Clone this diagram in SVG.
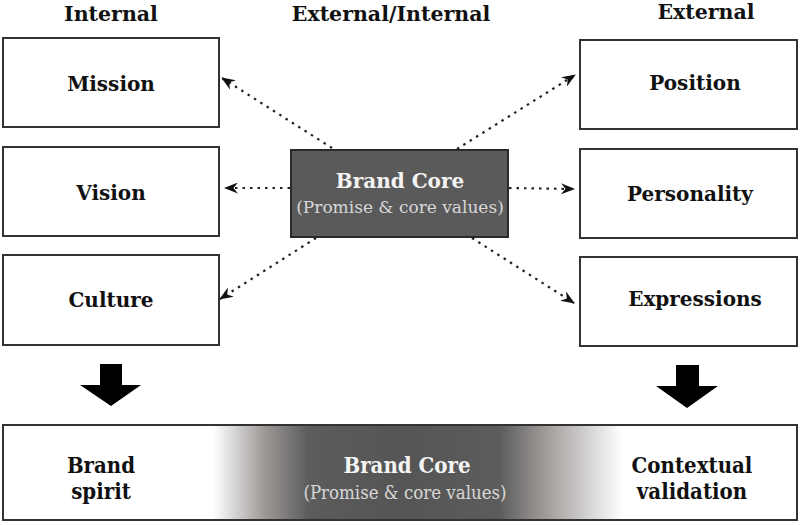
<svg xmlns="http://www.w3.org/2000/svg" width="800" height="525" viewBox="0 0 800 525">
<defs>
<style>
.box{fill:#fff;stroke:#333;stroke-width:2}
.lbl{font-family:"DejaVu Serif","Liberation Serif",serif;font-weight:bold;font-size:20px;fill:#111;text-anchor:middle}
.hdr{font-family:"DejaVu Serif","Liberation Serif",serif;font-weight:bold;font-size:20.5px;fill:#111;text-anchor:middle}
.sub{font-family:"DejaVu Serif","Liberation Serif",serif;font-size:17px;fill:#d8d8d8;text-anchor:middle}
.bl{font-family:"DejaVu Serif Condensed","DejaVu Serif",serif;font-weight:bold;font-size:22px;fill:#111;text-anchor:middle}
.bsub{font-family:"DejaVu Serif Condensed","DejaVu Serif",serif;font-size:18.5px;fill:#d8d8d8;text-anchor:middle}
.conn{stroke:#222;stroke-width:2.2;stroke-dasharray:2.5,5;fill:none;marker-end:url(#ah)}
</style>
<marker id="ah" viewBox="0 0 14 11" refX="13" refY="5.5" markerWidth="14" markerHeight="11" markerUnits="userSpaceOnUse" orient="auto">
<path d="M0,0 L14,5.5 L0,11 L4.5,5.5 z" fill="#111"/>
</marker>
<linearGradient id="g" x1="0" y1="0" x2="1" y2="0" gradientUnits="objectBoundingBox">
<stop offset="0" stop-color="#ffffff"/>
<stop offset="0.265" stop-color="#ffffff"/>
<stop offset="0.33" stop-color="#9c9896"/>
<stop offset="0.385" stop-color="#5c5c5c"/>
<stop offset="0.5" stop-color="#555"/>
<stop offset="0.625" stop-color="#5c5c5c"/>
<stop offset="0.68" stop-color="#9c9896"/>
<stop offset="0.78" stop-color="#ffffff"/>
<stop offset="1" stop-color="#ffffff"/>
</linearGradient>
</defs>
<rect width="800" height="525" fill="#fff"/>

<text class="hdr" x="111" y="21">Internal</text>
<text class="hdr" x="391" y="21">External/Internal</text>
<text class="hdr" x="706" y="19">External</text>

<g id="mission"><rect class="box" x="3" y="38" width="216" height="89"/><text class="lbl" x="111" y="91">Mission</text></g>
<g id="vision"><rect class="box" x="3" y="147" width="216" height="89"/><text class="lbl" x="111" y="200">Vision</text></g>
<g id="culture"><rect class="box" x="3" y="255" width="216" height="90"/><text class="lbl" x="111" y="307">Culture</text></g>

<g id="position"><rect class="box" x="580" y="40" width="217" height="89"/><text class="lbl" x="695" y="90">Position</text></g>
<g id="personality"><rect class="box" x="580" y="149" width="217" height="89"/><text class="lbl" x="690" y="201">Personality</text></g>
<g id="expressions"><rect class="box" x="580" y="257" width="217" height="89"/><text class="lbl" x="695" y="306">Expressions</text></g>

<g id="brand-core"><rect x="291" y="150" width="217" height="87" fill="#5a5a5a" stroke="#2a2a2a" stroke-width="2"/>
<text class="lbl" x="400" y="188" style="fill:#f4f4f4">Brand Core</text>
<text class="sub" x="400" y="213">(Promise &amp; core values)</text></g>

<g id="connectors">
<line class="conn" x1="332" y1="148" x2="222" y2="78"/>
<line class="conn" x1="290" y1="188" x2="225" y2="188"/>
<line class="conn" x1="316" y1="238" x2="220" y2="299"/>
<line class="conn" x1="457" y1="149" x2="575" y2="75"/>
<line class="conn" x1="509" y1="188" x2="574" y2="189"/>
<line class="conn" x1="472" y1="238" x2="574" y2="303"/>
<path d="M100,364 H122 V385 H141 L111,406 L80,385 H100 Z" fill="#000"/>
<path d="M676,365 H699 V386 H718 L687,408 L656,386 H676 Z" fill="#000"/>
</g>

<g id="bottom-bar"><rect x="3" y="425" width="794" height="95" fill="url(#g)" stroke="#333" stroke-width="2"/>
<text class="bl" x="101" y="473">Brand</text>
<text class="bl" x="101" y="499">spirit</text>
<text class="bl" x="407" y="473" style="fill:#f4f4f4">Brand Core</text>
<text class="bsub" x="405" y="499">(Promise &amp; core values)</text>
<text class="bl" x="692" y="473">Contextual</text>
<text class="bl" x="692" y="499">validation</text>
</g>
</svg>
